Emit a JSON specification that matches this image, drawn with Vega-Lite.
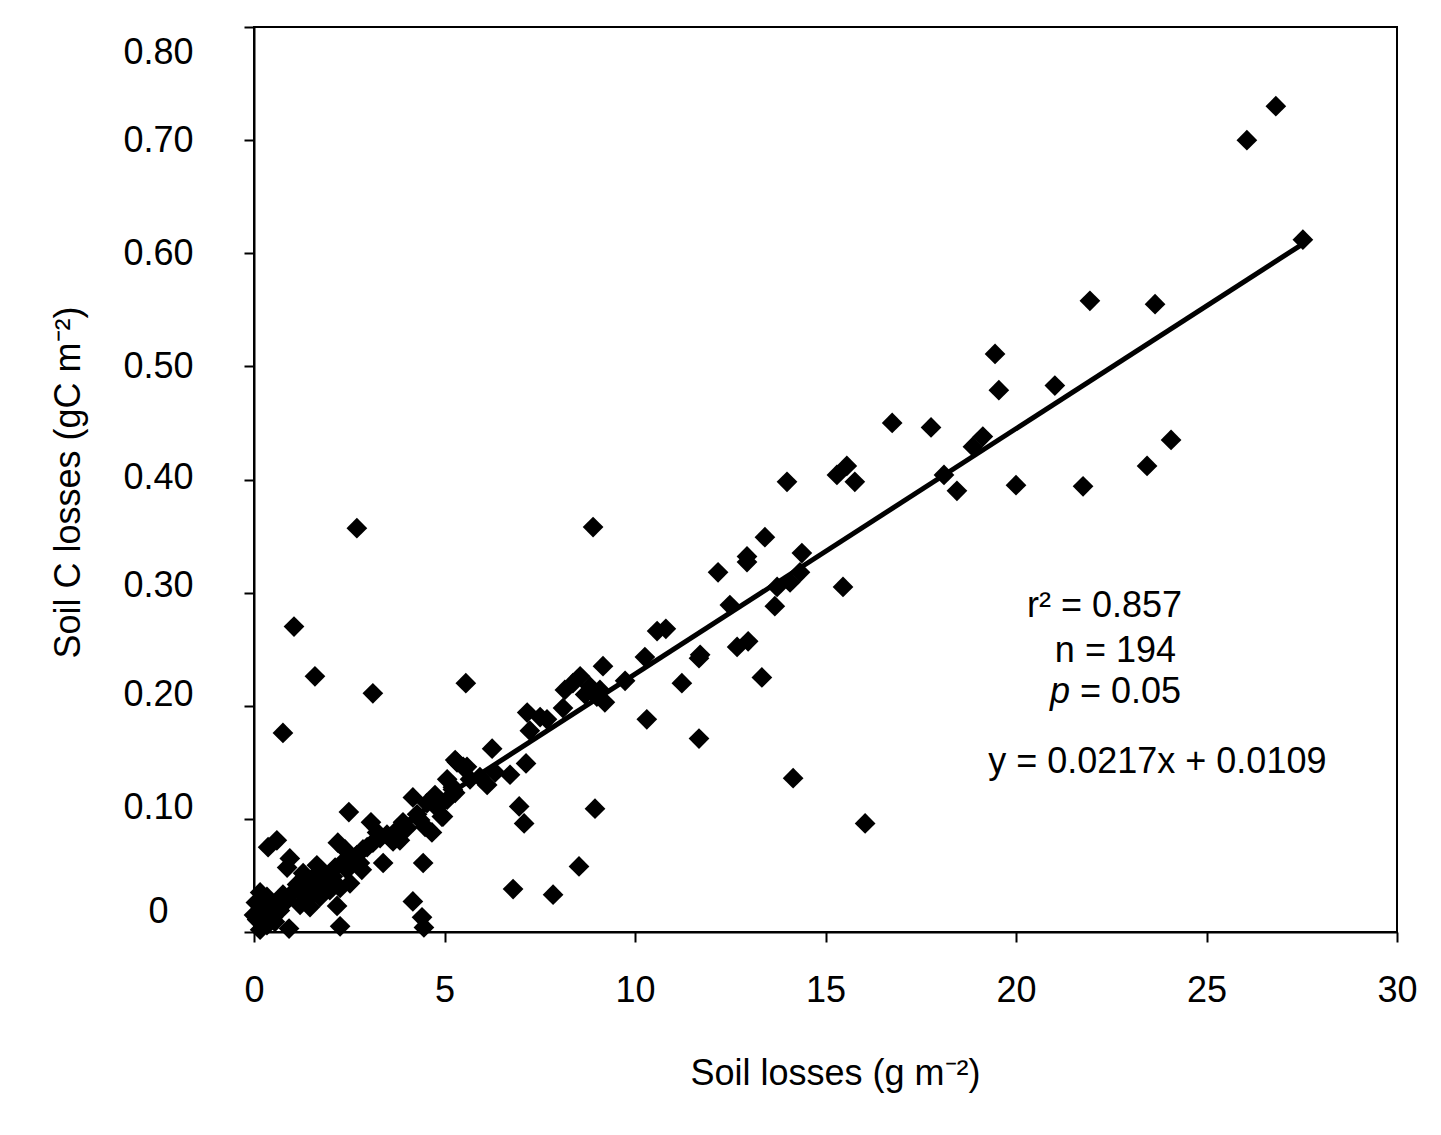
{
  "$schema": "https://vega.github.io/schema/vega-lite/v6.json",
  "width": 1143,
  "height": 905,
  "autosize": {"type": "none"},
  "padding": {"left": 254, "top": 27, "right": 44, "bottom": 203},
  "background": "white",
  "config": {
    "view": {"stroke": "black", "strokeWidth": 2},
    "font": "Liberation Sans"
  },
  "datasets": {
    "points": [
      {"x":26.82,"y":0.730},{"x":26.06,"y":0.700},{"x":27.53,"y":0.612},{"x":21.94,"y":0.558},{"x":23.65,"y":0.555},
      {"x":19.45,"y":0.511},{"x":19.55,"y":0.479},{"x":21.02,"y":0.483},{"x":16.75,"y":0.450},{"x":17.77,"y":0.446},
      {"x":19.13,"y":0.438},{"x":18.87,"y":0.429},{"x":24.07,"y":0.435},{"x":23.44,"y":0.412},{"x":18.11,"y":0.404},
      {"x":18.45,"y":0.390},{"x":20.0,"y":0.395},{"x":21.76,"y":0.394},{"x":13.99,"y":0.398},{"x":15.30,"y":0.404},
      {"x":15.56,"y":0.412},{"x":15.77,"y":0.398},{"x":15.46,"y":0.305},{"x":13.41,"y":0.349},{"x":14.38,"y":0.335},
      {"x":12.94,"y":0.332},{"x":12.94,"y":0.327},{"x":12.18,"y":0.318},{"x":14.33,"y":0.318},{"x":14.07,"y":0.309},
      {"x":13.73,"y":0.305},{"x":13.67,"y":0.288},{"x":12.49,"y":0.289},{"x":12.68,"y":0.252},{"x":12.97,"y":0.257},
      {"x":13.33,"y":0.225},{"x":14.15,"y":0.136},{"x":16.04,"y":0.096},{"x":10.58,"y":0.266},{"x":10.81,"y":0.268},
      {"x":10.26,"y":0.243},{"x":11.71,"y":0.245},{"x":11.68,"y":0.242},{"x":11.23,"y":0.220},{"x":10.31,"y":0.188},
      {"x":11.68,"y":0.171},{"x":8.90,"y":0.358},{"x":2.70,"y":0.357},{"x":1.05,"y":0.270},{"x":1.60,"y":0.226},
      {"x":3.12,"y":0.211},{"x":0.76,"y":0.176},{"x":5.56,"y":0.220},{"x":9.16,"y":0.235},{"x":9.74,"y":0.222},
      {"x":8.56,"y":0.226},{"x":8.37,"y":0.220},{"x":8.82,"y":0.217},{"x":9.00,"y":0.208},{"x":9.21,"y":0.203},
      {"x":8.11,"y":0.198},{"x":7.17,"y":0.194},{"x":7.51,"y":0.190},{"x":7.69,"y":0.188},{"x":7.24,"y":0.178},
      {"x":6.25,"y":0.162},{"x":7.14,"y":0.149},{"x":6.96,"y":0.111},{"x":7.09,"y":0.096},{"x":8.95,"y":0.109},
      {"x":8.53,"y":0.058},{"x":6.80,"y":0.038},{"x":7.85,"y":0.033},{"x":5.28,"y":0.152},{"x":5.49,"y":0.146},
      {"x":5.07,"y":0.135},{"x":5.22,"y":0.126},{"x":5.93,"y":0.137},{"x":6.12,"y":0.130},{"x":6.33,"y":0.141},
      {"x":4.93,"y":0.102},{"x":5.59,"y":0.146},{"x":5.33,"y":0.150},{"x":2.49,"y":0.106},{"x":2.20,"y":0.079},
      {"x":3.07,"y":0.097},{"x":3.39,"y":0.061},{"x":4.44,"y":0.061},{"x":4.17,"y":0.027},{"x":4.41,"y":0.013},
      {"x":4.46,"y":0.004},{"x":2.26,"y":0.005},{"x":2.18,"y":0.023},{"x":0.92,"y":0.003},{"x":0.60,"y":0.081},
      {"x":0.37,"y":0.075},{"x":0.94,"y":0.065},{"x":0.87,"y":0.057},{"x":1.29,"y":0.052},{"x":1.65,"y":0.059},
      {"x":2.52,"y":0.043},{"x":2.78,"y":0.061},{"x":2.97,"y":0.075},{"x":3.31,"y":0.083},{"x":3.65,"y":0.080},
      {"x":4.02,"y":0.092},{"x":4.17,"y":0.119},{"x":4.54,"y":0.114},{"x":4.49,"y":0.093},{"x":4.67,"y":0.088},
      {"x":4.96,"y":0.102},{"x":5.22,"y":0.128},{"x":5.28,"y":0.123},{"x":0.05,"y":0.026},{"x":0.16,"y":0.035},
      {"x":0.34,"y":0.031},{"x":0.08,"y":0.011},{"x":0.16,"y":0.002},{"x":0.50,"y":0.013},{"x":0.68,"y":0.019},
      {"x":0.87,"y":0.028},{"x":1.02,"y":0.035},{"x":1.21,"y":0.037},{"x":1.39,"y":0.040},{"x":1.47,"y":0.022},
      {"x":1.73,"y":0.031},{"x":1.92,"y":0.043},{"x":2.07,"y":0.049},{"x":2.26,"y":0.039},{"x":2.44,"y":0.055},
      {"x":2.60,"y":0.064},{"x":1.39,"y":0.028},{"x":1.73,"y":0.046},{"x":1.99,"y":0.037},{"x":0.24,"y":0.018},
      {"x":0.42,"y":0.024},{"x":0.60,"y":0.026},{"x":0.76,"y":0.033},{"x":1.13,"y":0.042},{"x":1.55,"y":0.048},
      {"x":1.81,"y":0.053},{"x":2.34,"y":0.062},{"x":2.70,"y":0.068},{"x":2.86,"y":0.073},{"x":3.12,"y":0.079},
      {"x":3.49,"y":0.086},{"x":3.75,"y":0.090},{"x":3.91,"y":0.097},{"x":4.28,"y":0.104},{"x":4.80,"y":0.110},
      {"x":5.07,"y":0.117},{"x":0.34,"y":0.006},{"x":0.0,"y":0.015},{"x":0.55,"y":0.009},{"x":1.21,"y":0.024},
      {"x":1.60,"y":0.037},{"x":2.13,"y":0.057},{"x":2.39,"y":0.073},{"x":2.83,"y":0.055},{"x":3.23,"y":0.088},
      {"x":3.83,"y":0.081},{"x":4.36,"y":0.099},{"x":4.75,"y":0.121},{"x":5.67,"y":0.135},{"x":6.72,"y":0.139},
      {"x":8.16,"y":0.214},{"x":8.69,"y":0.210},{"x":9.08,"y":0.214}
    ],
    "fit": [{"x": 0.2, "y": 0.0152}, {"x": 27.5, "y": 0.6077}],
    "notes": [
      {"x": 20.29, "y": 0.2885, "label": "r² = 0.857"},
      {"x": 21.02, "y": 0.2487, "label": "n = 194"},
      {"x": 21.68, "y": 0.2124, "label": "= 0.05"},
      {"x": 19.27, "y": 0.1504, "label": "y = 0.0217x + 0.0109"}
    ],
    "notesItalic": [
      {"x": 20.89, "y": 0.2124, "label": "p"}
    ]
  },
  "layer": [
    {
      "data": {"name": "points"},
      "mark": {"type": "point", "shape": "diamond", "filled": true, "color": "black", "size": 430, "opacity": 1},
      "encoding": {
        "x": {
          "field": "x", "type": "quantitative",
          "scale": {"domain": [0, 30], "nice": false, "zero": false},
          "axis": {
            "values": [0, 5, 10, 15, 20, 25, 30],
            "title": "Soil losses (g m⁻²)",
            "titleFont": "Liberation Sans", "titleFontSize": 36, "titleFontWeight": "normal", "titleColor": "black",
            "titleX": 581, "titleY": 141, "titleBaseline": "middle", "titleAlign": "center",
            "labelFont": "Liberation Sans", "labelFontSize": 36, "labelColor": "black", "labelPadding": 31,
            "labelFlush": false, "labelOverlap": false,
            "tickSize": 10, "tickColor": "black", "tickWidth": 2,
            "domainColor": "black", "domainWidth": 2, "grid": false
          }
        },
        "y": {
          "field": "y", "type": "quantitative",
          "scale": {"domain": [0, 0.8], "nice": false, "zero": false},
          "axis": {
            "values": [0, 0.1, 0.2, 0.3, 0.4, 0.5, 0.6, 0.7, 0.8],
            "labelExpr": "datum.value == 0 ? '0' : format(datum.value, '.2f')",
            "title": "Soil C losses (gC m⁻²)",
            "titleFont": "Liberation Sans", "titleFontSize": 36, "titleFontWeight": "normal", "titleColor": "black",
            "titleX": -186, "titleY": 455, "titleBaseline": "middle", "titleAlign": "center", "titleAngle": -90,
            "labelFont": "Liberation Sans", "labelFontSize": 36, "labelColor": "black", "labelPadding": 86,
            "labelAlign": "center",
            "labelFlush": true, "labelOverlap": false,
            "labelOffset": {
              "condition": [
                {"test": "datum.value >= 0.79", "value": 8},
                {"test": "datum.value >= 0.45", "value": 0},
                {"test": "datum.value >= 0.35", "value": -2},
                {"test": "datum.value >= 0.25", "value": -7},
                {"test": "datum.value > 0.05", "value": -11}
              ],
              "value": -2
            },
            "tickSize": 10, "tickColor": "black", "tickWidth": 2,
            "domainColor": "black", "domainWidth": 2, "grid": false
          }
        }
      }
    },
    {
      "data": {"name": "fit"},
      "mark": {"type": "line", "color": "black", "strokeWidth": 5},
      "encoding": {
        "x": {"field": "x", "type": "quantitative"},
        "y": {"field": "y", "type": "quantitative"}
      }
    },
    {
      "data": {"name": "notes"},
      "mark": {"type": "text", "align": "left", "baseline": "middle", "fontSize": 36, "font": "Liberation Sans", "color": "black"},
      "encoding": {
        "x": {"field": "x", "type": "quantitative"},
        "y": {"field": "y", "type": "quantitative"},
        "text": {"field": "label"}
      }
    },
    {
      "data": {"name": "notesItalic"},
      "mark": {"type": "text", "align": "left", "baseline": "middle", "fontSize": 36, "font": "Liberation Sans", "fontStyle": "italic", "color": "black"},
      "encoding": {
        "x": {"field": "x", "type": "quantitative"},
        "y": {"field": "y", "type": "quantitative"},
        "text": {"field": "label"}
      }
    }
  ]
}
